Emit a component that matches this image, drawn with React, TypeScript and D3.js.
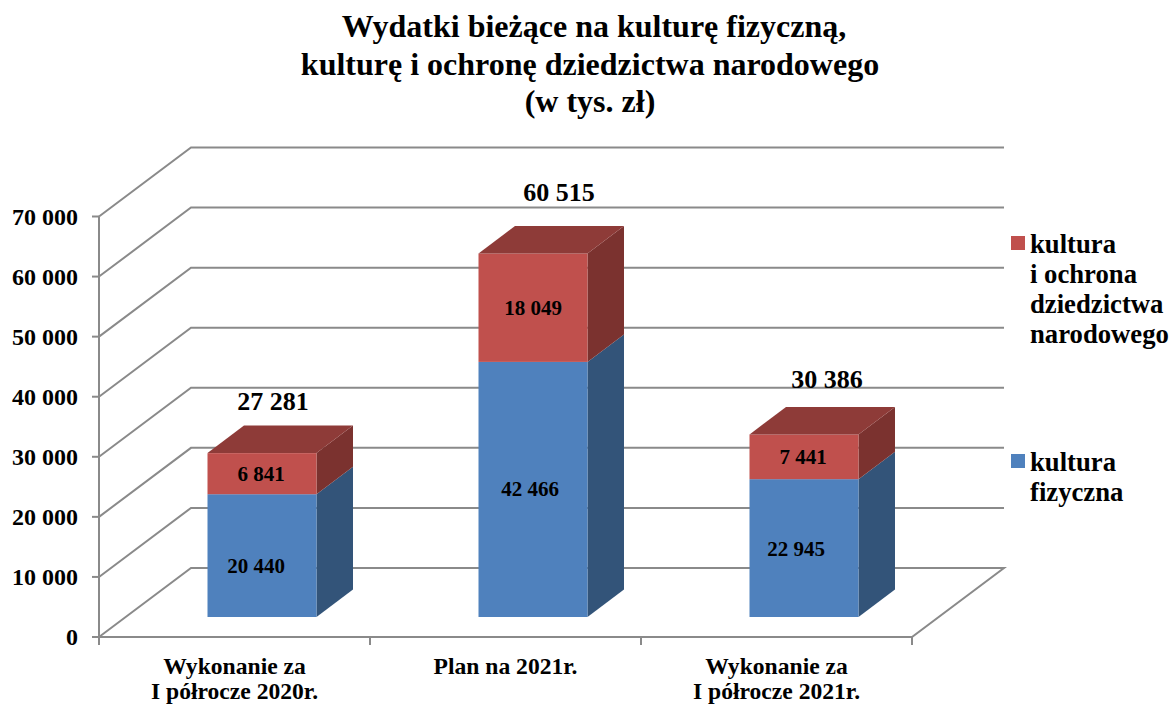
import React from "react";
import * as d3 from "d3";

const titleLines = ["Wydatki bieżące na kulturę fizyczną,", "kulturę i ochronę dziedzictwa narodowego", "(w tys. zł)"];
const categories = ["c1", "c2", "c3"];
const categoryLabels = [
  ["Wykonanie za", "I półrocze 2020r."],
  ["Plan na 2021r."],
  ["Wykonanie za", "I półrocze 2021r."],
];
const fizyczna = [20440, 42466, 22945];
const dziedzictwo = [6841, 18049, 7441];
const totals = [27281, 60515, 30386];
const yTicks = [0, 10000, 20000, 30000, 40000, 50000, 60000, 70000];
const legendBlue = ["kultura", "fizyczna"];
const legendRed = ["kultura", "i ochrona", "dziedzictwa", "narodowego"];

const FONT = '"Liberation Serif", "Times New Roman", serif';
const GRID = "#8a8a8a";
const BLUE = { front: "#4f81bd", side: "#335479" };
const RED = { front: "#c0504d", side: "#7b322f", top: "#8e3b38" };

// layout
const wallDx = 92, wallDy = -69;
const barDx = 36.5, barDy = -27.5;
const barLift = 20;
const barW = 109;
const barInset = (271 - barW) / 2 + 27.5;
const titleX = [594, 590, 590];

const fmt = (v: number) => d3.format(",")(v).replace(/,/g, " ");
const pts = (p: number[][]) => p.map((q) => q.join(",")).join(" ");

// label placement relative to the bar's front face centre
const blueNudge = [[-6, 10], [-3, 0], [-8, 1]];
const redNudge = [[-1, 0], [0, 0], [-1, 0]];
const totalNudge = [[11, -43], [26, -52], [23, -46]];

export default function App() {
  const x = d3.scaleBand<string>().domain(categories).range([99, 912]);
  const y = d3.scaleLinear().domain([0, 70000]).range([637, 216.5]);

  const box = (x0: number, y1: number, y2: number, c: { front: string; side: string }) => (
    <>
      <polygon
        points={pts([[x0 + barW, y1], [x0 + barW + barDx, y1 + barDy], [x0 + barW + barDx, y2 + barDy], [x0 + barW, y2]])}
        fill={c.side}
      />
      <rect x={x0} y={y2} width={barW} height={y1 - y2} fill={c.front} />
    </>
  );

  return (
    <svg
      width={1172}
      height={704}
      style={{ position: "absolute", left: 0, top: 0, background: "#fff" }}
      fontFamily={FONT}
      fontWeight="bold"
      fill="#000"
    >
      {titleLines.map((t, i) => (
        <text key={i} x={titleX[i]} y={37 + i * 37.5} textAnchor="middle" fontSize={32}>{t}</text>
      ))}

      {/* walls */}
      <g stroke={GRID} strokeWidth={2} fill="none">
        {yTicks.map((t) => (
          <polyline
            key={t}
            points={pts([[99, y(t)], [99 + wallDx, y(t) + wallDy], [1004, y(t) + wallDy]])}
            strokeWidth={t === 0 ? 0 : 2}
          />
        ))}
        <polyline points={pts([[99, y(0)], [99 + wallDx, y(0) + wallDy], [1004, y(0) + wallDy], [912, y(0)], [99, y(0)]])} />
        <line x1={99} x2={99} y1={y(70000)} y2={y(0) + 8} />
        {yTicks.map((t) => (
          <line key={t} x1={92} x2={99} y1={y(t)} y2={y(t)} />
        ))}
        {[...categories.map((c) => x(c)!), 912].map((v, i) => (
          <line key={i} x1={v} x2={v} y1={y(0)} y2={y(0) + 8} />
        ))}
      </g>

      {yTicks.map((t) => (
        <text key={t} x={78} y={y(t) + 8} textAnchor="end" fontSize={24}>{fmt(t)}</text>
      ))}

      {/* bars */}
      {categories.map((c, i) => {
        const x0 = x(c)! + barInset;
        const base = y(0) - barLift;
        const h = y(0) - y(fizyczna[i]);
        const h2 = y(0) - y(dziedzictwo[i]);
        const y1 = base - h;
        const y2 = y1 - h2;
        const cx = x0 + barW / 2;
        return (
          <g key={c}>
            {box(x0, base, y1, BLUE)}
            {box(x0, y1, y2, RED)}
            <polygon
              points={pts([[x0, y2], [x0 + barDx, y2 + barDy], [x0 + barW + barDx, y2 + barDy], [x0 + barW, y2]])}
              fill={RED.top}
            />
            <text x={cx + blueNudge[i][0]} y={(base + y1) / 2 + 7 + blueNudge[i][1]} textAnchor="middle" fontSize={21}>
              {fmt(fizyczna[i])}
            </text>
            <text x={cx + redNudge[i][0]} y={(y1 + y2) / 2 + 7 + redNudge[i][1]} textAnchor="middle" fontSize={21}>
              {fmt(dziedzictwo[i])}
            </text>
            <text x={cx + totalNudge[i][0]} y={y2 + totalNudge[i][1]} textAnchor="middle" fontSize={26}>
              {fmt(totals[i])}
            </text>
          </g>
        );
      })}

      {/* category labels */}
      {categories.map((c, i) => (
        <g key={c}>
          {categoryLabels[i].map((l, j) => (
            <text key={j} x={x(c)! + x.bandwidth() / 2} y={674 + j * 24.5} textAnchor="middle" fontSize={23.6}>{l}</text>
          ))}
        </g>
      ))}

      {/* legend */}
      <rect x={1011} y={236} width={14} height={14} fill={RED.front} />
      {legendRed.map((l, i) => (
        <text key={i} x={1030} y={253 + i * 30} fontSize={26.7}>{l}</text>
      ))}
      <rect x={1011} y={454} width={14} height={14} fill={BLUE.front} />
      {legendBlue.map((l, i) => (
        <text key={i} x={1030} y={471 + i * 30} fontSize={26.7}>{l}</text>
      ))}
    </svg>
  );
}
